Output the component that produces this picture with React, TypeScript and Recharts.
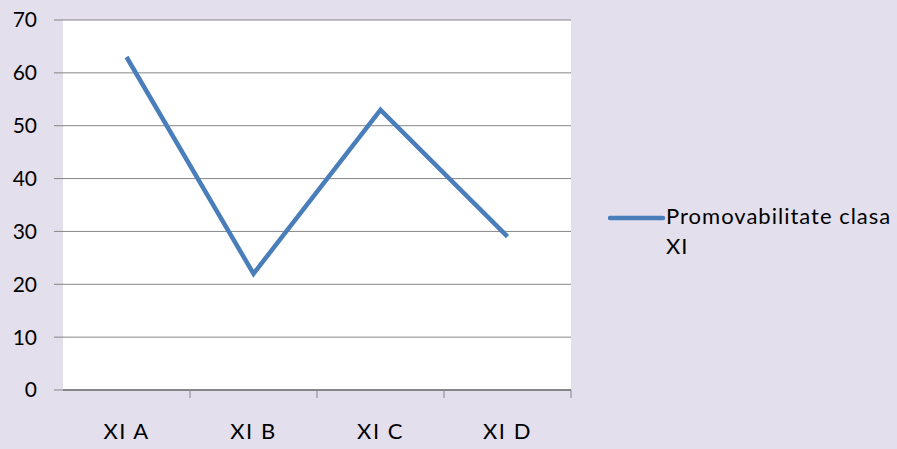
import { LineChart, Line, XAxis, YAxis, CartesianGrid, Legend } from "recharts";

const CLASSES = ["XI A", "XI B", "XI C", "XI D"];
const PROMOVABILITATE = [63, 22, 53, 29];
const Y_TICKS = [0, 10, 20, 30, 40, 50, 60, 70];
const SERIES_NAME = "Promovabilitate clasa XI";

const FONT = "Lato, 'Liberation Sans', sans-serif";
const LINE_COLOR = "#4A7EBB";
const GRID_COLOR = "#868686";

// categories sit in the middle of each band, boundaries at whole numbers
const data = CLASSES.map((c, i) => ({ name: c, idx: i + 0.5, value: PROMOVABILITATE[i] }));
const boundaryTicks = CLASSES.map((_, i) => i + 1);
const labelTicks = data.map((d) => d.idx);

function LegendBox() {
  return (
    <div style={{ display: "flex", alignItems: "flex-start", fontFamily: FONT, fontSize: 22, letterSpacing: "1px", color: "#000" }}>
      <svg width={58} height={30} style={{ flex: "none" }}>
        <line x1={2} x2={55} y1={17} y2={17} stroke={LINE_COLOR} strokeWidth={4.5} strokeLinecap="round" />
      </svg>
      <div style={{ width: 240, lineHeight: "30px" }}>{SERIES_NAME}</div>
    </div>
  );
}

export default function App() {
  return (
    <div style={{ position: "absolute", left: 0, top: 0, width: 897, height: 449, background: "#E4DFEC" }}>
      <LineChart width={897} height={449} data={data} margin={{ top: 20, right: 326, bottom: 0, left: 0 }}>
        <CartesianGrid vertical={false} fill="#FFFFFF" fillOpacity={1} stroke={GRID_COLOR} strokeWidth={1} />
        <XAxis
          type="number"
          dataKey="idx"
          domain={[0, 4]}
          ticks={boundaryTicks}
          tickFormatter={() => ""}
          tick={{ fontSize: 0 }}
          tickSize={8}
          tickLine={{ stroke: GRID_COLOR }}
          axisLine={{ stroke: GRID_COLOR, strokeWidth: 2 }}
          height={1}
        />
        <XAxis
          xAxisId="labels"
          type="number"
          dataKey="idx"
          domain={[0, 4]}
          ticks={labelTicks}
          tickFormatter={(v: number) => CLASSES[Math.floor(v)]}
          axisLine={false}
          tickLine={false}
          tickSize={0}
          tickMargin={32}
          height={58}
          tick={{ fill: "#000", fontFamily: FONT, fontSize: 22, style: { letterSpacing: "1.5px" } }}
        />
        <YAxis
          domain={[0, 70]}
          ticks={Y_TICKS}
          width={63}
          axisLine={false}
          tickSize={9}
          tickMargin={17}
          tickLine={{ stroke: GRID_COLOR }}
          tick={{ fill: "#000", fontFamily: FONT, fontSize: 21 }}
        />
        <Line
          dataKey="value"
          name={SERIES_NAME}
          type="linear"
          stroke={LINE_COLOR}
          strokeWidth={4.5}
          dot={false}
          isAnimationActive={false}
        />
        <Legend
          layout="horizontal"
          verticalAlign="middle"
          align="center"
          content={() => <LegendBox />}
          wrapperStyle={{ left: 608, top: 201, width: 289 }}
        />
      </LineChart>
    </div>
  );
}
